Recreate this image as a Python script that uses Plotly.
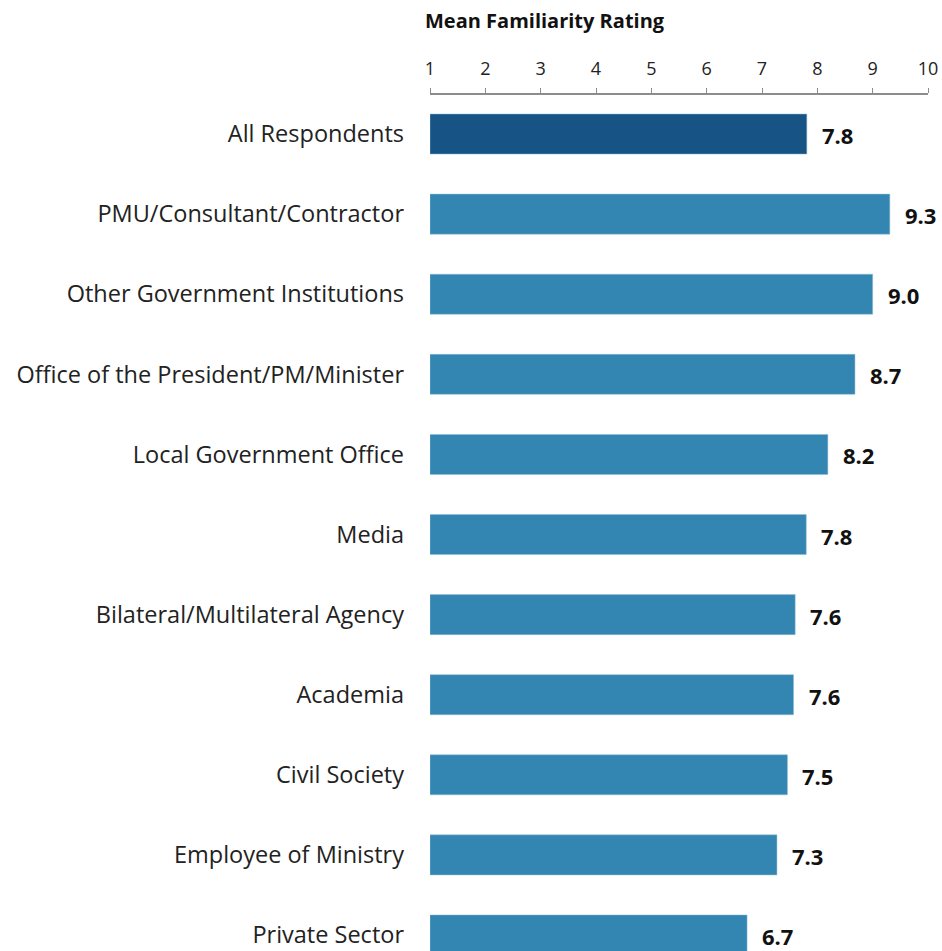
import plotly.graph_objects as go

categories = ["All Respondents", "PMU/Consultant/Contractor", "Other Government Institutions",
              "Office of the President/PM/Minister", "Local Government Office", "Media",
              "Bilateral/Multilateral Agency", "Academia", "Civil Society",
              "Employee of Ministry", "Private Sector"]
values = [7.81, 9.31, 9.0, 8.68, 8.19, 7.8, 7.6, 7.57, 7.46, 7.27, 6.73]
labels = ["7.8", "9.3", "9.0", "8.7", "8.2", "7.8", "7.6", "7.6", "7.5", "7.3", "6.7"]
tick_vals = list(range(1, 11))

colors = ["#175384"] + ["#3386B1"] * (len(categories) - 1)
FONT = "Open Sans"

fig = go.Figure()
fig.add_trace(go.Bar(
    y=categories, x=[v - 1 for v in values], base=1, orientation="h",
    marker=dict(color=colors, line=dict(color="#8FBCD6", width=0.5)),
    width=0.5, hoverinfo="skip",
))
for c, v, t in zip(categories, values, labels):
    fig.add_annotation(x=v, y=c, text="<b>" + t + "</b>", showarrow=False,
                       xanchor="left", xshift=13, yshift=-1,
                       font=dict(family=FONT, size=22, color="#111111"))

fig.add_annotation(x=0, y=1.0876, xref="paper", yref="paper", xanchor="left", xshift=-7,
                   yanchor="middle", showarrow=False,
                   text="<b>Mean Familiarity Rating</b>",
                   font=dict(family=FONT, size=20, color="#111111"))

fig.update_layout(
    width=942, height=951,
    margin=dict(l=430, r=14, t=95, b=0),
    plot_bgcolor="white", paper_bgcolor="white",
    showlegend=False,
    font=dict(family=FONT, color="#222222"),
)
fig.update_xaxes(side="top", range=[1, 10], tickvals=tick_vals, showgrid=False,
                 zeroline=False, showline=True, linecolor="#8C8C8C", linewidth=1.5,
                 ticks="outside", ticklen=5, tickcolor="#8C8C8C", ticklabelstandoff=6,
                 tickfont=dict(family=FONT, size=18, color="#222222"))
fig.update_yaxes(range=[10.2, -0.4875], showgrid=False, zeroline=False, showline=False,
                 ticks="", ticklabelstandoff=25,
                 tickfont=dict(family=FONT, size=23.5, color="#222222"))

fig.write_html("out.html", config={"displayModeBar": False},
               post_script="document.body.style.margin='0';document.body.style.overflow='hidden';")
